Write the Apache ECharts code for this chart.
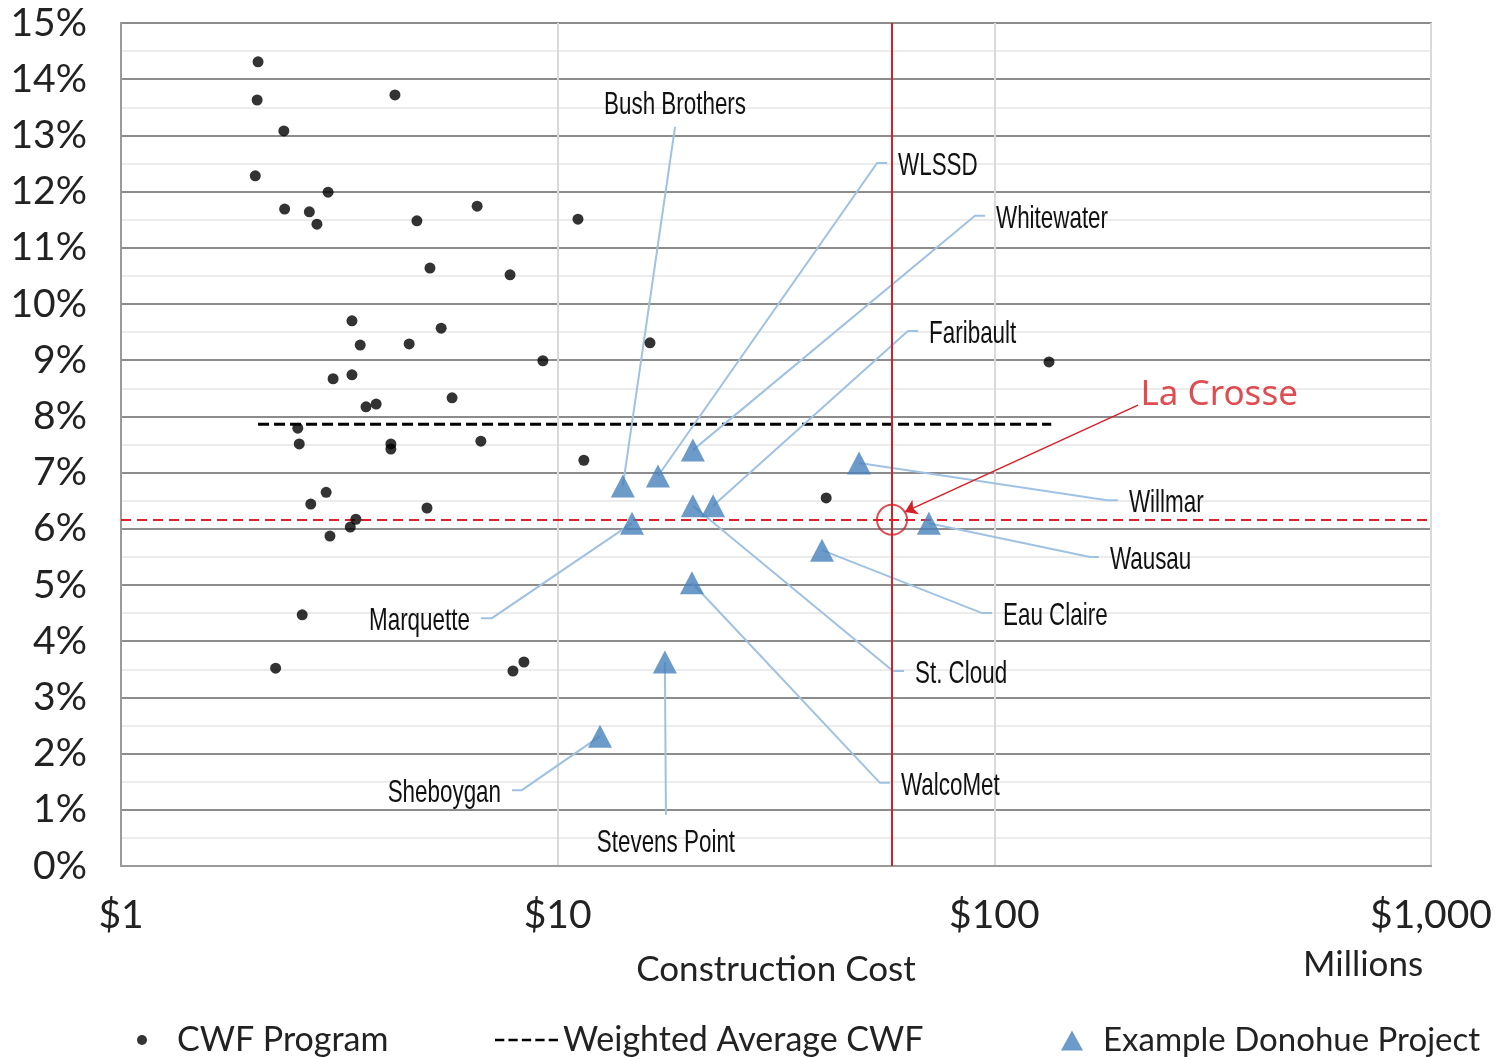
<!DOCTYPE html>
<html><head><meta charset="utf-8">
<script src="https://cdn.jsdelivr.net/npm/echarts@6/dist/echarts.min.js"></script>
<style>html,body{margin:0;padding:0;background:#fff}#c{width:1496px;height:1057px}</style>
</head><body><div id="c"></div>
<script>
// ---- data (cost in $ millions, rate in %) ----
const cwfCost = [2.06,2.05,2.36,2.03,2.98,2.37,2.70,2.81,4.24,4.76,6.54,11.13,5.10,7.78,3.38,3.53,5.41,4.57,3.06,3.38,3.64,3.84,5.73,9.25,16.27,133.4,2.54,2.56,4.15,4.15,6.67,11.48,2.95,2.72,3.01,3.35,3.45,5.02,41.2,2.60,2.26,7.90,8.37];
const cwfRate = [14.31,13.63,13.08,12.28,11.99,11.69,11.64,11.42,13.72,11.48,11.74,11.51,10.64,10.52,9.70,9.27,9.57,9.29,8.67,8.74,8.17,8.22,8.33,8.99,9.31,8.97,7.79,7.51,7.51,7.42,7.56,7.22,6.65,6.44,5.87,6.03,6.17,6.37,6.55,4.47,3.52,3.47,3.63];

const projNames = ['Bush Brothers','WLSSD','Whitewater','Faribault','Willmar','Wausau','Eau Claire','St. Cloud','WalcoMet','Marquette','Sheboygan','Stevens Point'];
const projCost  = [14.1,16.97,20.4,22.7,49.0,70.8,40.3,20.4,20.3,14.8,12.5,17.6];
const projRate  = [6.76,6.94,7.40,6.41,7.17,6.10,5.62,6.41,5.04,6.10,2.31,3.63];

// label leader anchors in data space: [innerCost, innerRate, outerCost, outerRate]
const leaderAnchors = [
  [18.57,13.15,18.57,13.15],
  [53.9,12.51,56.8,12.51],
  [90.3,11.57,95.2,11.57],
  [63.4,9.52,66.9,9.52],
  [181.1,6.51,191.9,6.51],
  [165.6,5.50,173.6,5.50],
  [93.7,4.50,98.8,4.50],
  [58.6,3.47,62.1,3.47],
  [54.7,1.48,57.7,1.48],
  [7.07,4.41,6.67,4.41],
  [8.28,1.35,7.86,1.35],
  [17.7,0.91,17.7,0.91]
];
const labelSide = ['top','right','right','right','right','right','right','right','right','left','left','bottom'];

const avgRate = 7.86, avgFrom = 2.06, avgTo = 135;
const laCrosseCost = 58.3, laCrosseRate = 6.16;
const laCrosseArrowFrom = [213.3, 8.20], laCrosseArrowTo = [62.4, 6.30];

const xTicks = [1, 10, 100, 1000];
const yMin = 0, yMax = 15, yStep = 1;

// ---- chart ----
const axisFont = "Lato, 'Open Sans', sans-serif";
const condFont = "'Liberation Sans', Arial, sans-serif";
const chart = echarts.init(document.getElementById('c'), null, {renderer: 'canvas'});

const cwfData = cwfCost.map((c, i) => [c, cwfRate[i]]);
const projData = projCost.map((c, i) => [c, projRate[i]]);
const leaders = projNames.map((n, i) => ({
  coords: [[projCost[i], projRate[i]], [leaderAnchors[i][0], leaderAnchors[i][1]], [leaderAnchors[i][2], leaderAnchors[i][3]]]
}));
const labelData = projNames.map((n, i) => [leaderAnchors[i][2], leaderAnchors[i][3], i]);

const SX = 0.7;
function renderLabel(params, api) {
  const i = api.value(2);
  const p = api.coord([api.value(0), api.value(1)]);
  const side = labelSide[i];
  let sx = 0, sy = 3, align = 'left', va = 'middle';
  if (side === 'right') { sx = 11 / SX; }
  else if (side === 'left') { sx = -11 / SX; align = 'right'; }
  else if (side === 'top') { align = 'center'; va = 'bottom'; sy = -6; }
  else { align = 'center'; va = 'top'; sy = 12; }
  return {
    type: 'text', x: p[0], y: p[1], scaleX: SX, scaleY: 1, silent: true,
    style: {text: projNames[i], x: sx, y: sy, align: align, verticalAlign: va,
      font: "32px " + condFont, fill: '#111'}
  };
}

const legendText = {fontFamily: axisFont, fontSize: 34, color: '#222'};

chart.setOption({
  animation: false,
  backgroundColor: '#fff',
  grid: {left: 121, right: 65, top: 23, bottom: 191, show: true, borderColor: '#9a9a9a', borderWidth: 2},
  xAxis: {
    type: 'log', logBase: 10, min: xTicks[0], max: xTicks[xTicks.length - 1],
    name: 'Construction Cost', nameLocation: 'middle', nameGap: 86,
    nameTextStyle: {fontFamily: axisFont, fontSize: 35, color: '#222'},
    axisLine: {show: true, lineStyle: {color: '#9a9a9a', width: 2}},
    axisTick: {show: false},
    axisLabel: {fontFamily: axisFont, fontSize: 39, color: '#222', margin: 30,
      formatter: v => '$' + Number(v).toLocaleString('en-US')},
    splitLine: {show: true, lineStyle: {color: '#d9d9d9', width: 2}}
  },
  yAxis: {
    type: 'value', min: yMin, max: yMax, interval: yStep,
    axisLine: {show: true, lineStyle: {color: '#9a9a9a', width: 2}},
    axisTick: {show: false},
    axisLabel: {fontFamily: axisFont, fontSize: 39, color: '#222', margin: 34, formatter: '{value}%'},
    splitLine: {show: true, lineStyle: {color: '#8c8c8c', width: 2}},
    minorTick: {show: false, splitNumber: 2},
    minorSplitLine: {show: true, lineStyle: {color: '#ececec', width: 2}}
  },
  graphic: [{
    type: 'text', left: 1303, top: 947,
    style: {text: 'Millions', font: "35px " + axisFont, fill: '#222'}
  }],
  legend: [
    {data: ['CWF Program'], left: 132, top: 1018, icon: 'circle', itemWidth: 10, itemHeight: 10,
     textStyle: Object.assign({padding: [0, 0, 0, 25]}, legendText)},
    {data: [{name: 'Weighted Average CWF',
       icon: 'path://M0,0h9v2.5h-9z M13,0h9v2.5h-9z M26,0h9v2.5h-9z M39,0h9v2.5h-9z M52,0h9v2.5h-9z'}],
     left: 490, top: 1018, itemWidth: 63, itemHeight: 3, textStyle: legendText},
    {data: ['Example Donohue Project'], left: 1056, top: 1019, icon: 'triangle', itemWidth: 22, itemHeight: 20,
     textStyle: Object.assign({padding: [0, 0, 0, 15]}, legendText, {fontSize: 33})}
  ],
  series: [
    {
      name: 'La Crosse lines', type: 'scatter', data: [], silent: true,
      markLine: {
        silent: true, symbol: ['none', 'none'], label: {show: false},
        data: [
          {xAxis: laCrosseCost, lineStyle: {color: '#d42027', width: 2, type: 'solid'}},
          {yAxis: laCrosseRate, lineStyle: {color: '#e0202a', width: 2, type: [10, 6]}}
        ]
      }
    },
    {
      name: 'Weighted Average CWF', type: 'line', data: [[avgFrom, avgRate], [avgTo, avgRate]],
      symbol: 'none', silent: true,
      lineStyle: {color: '#000', width: 3, type: [11, 5]},
      itemStyle: {color: '#000'}, z: 3
    },
    {
      name: 'leaders', type: 'lines', coordinateSystem: 'cartesian2d', polyline: true, silent: true,
      data: leaders, lineStyle: {color: '#9fc2e2', width: 2, opacity: 1}, z: 4
    },
    {
      name: 'CWF Program', type: 'scatter', data: cwfData, symbol: 'circle', symbolSize: 11,
      itemStyle: {color: '#000'}, z: 5
    },
    {
      name: 'Example Donohue Project', type: 'scatter', data: projData, symbol: 'triangle', symbolSize: [24, 23],
      itemStyle: {color: '#4781bc'}, z: 6
    },
    {
      name: 'labels', type: 'custom', data: labelData, renderItem: renderLabel, silent: true,
      encode: {x: 0, y: 1}, z: 7
    },
    {
      name: 'La Crosse', type: 'scatter', data: [[laCrosseCost, laCrosseRate]], symbol: 'circle', symbolSize: 30,
      itemStyle: {color: 'rgba(0,0,0,0)', borderColor: '#d42027', borderWidth: 2}, z: 8, silent: true
    },
    {
      name: 'La Crosse arrow', type: 'lines', coordinateSystem: 'cartesian2d', silent: true,
      symbol: ['none', 'arrow'], symbolSize: 12,
      data: [{coords: [laCrosseArrowFrom, laCrosseArrowTo]}],
      lineStyle: {color: '#d42027', width: 1.5, opacity: 1}, z: 8
    },
    {
      name: 'La Crosse label', type: 'scatter', symbolSize: 1, silent: true,
      data: [{value: laCrosseArrowFrom, name: 'La Crosse'}],
      itemStyle: {color: 'rgba(0,0,0,0)'},
      label: {show: true, position: 'right', distance: 2, offset: [0, -10], formatter: p => p.name,
        fontFamily: "'Noto Sans', 'Open Sans', sans-serif", fontSize: 35, color: '#d42027'}, z: 8
    }
  ]
});
</script></body></html>
